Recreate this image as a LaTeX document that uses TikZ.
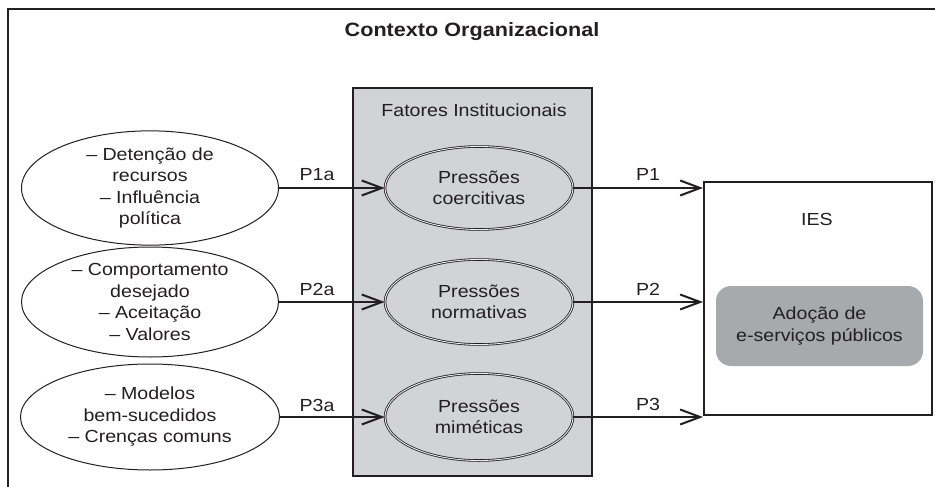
\documentclass[tikz,border=0pt]{standalone}
\usepackage{fontspec}
\setmainfont{Liberation Sans}[FakeStretch=1.12]
\usetikzlibrary{shapes.geometric,arrows.meta}
\definecolor{ink}{HTML}{231F20}
\definecolor{boxgray}{HTML}{D1D3D4}
\definecolor{adgray}{HTML}{A7A9AC}
\tikzset{
  txt/.style={font=\fontsize{17.5}{21.5}\selectfont, text=ink, align=center, inner sep=0pt},
  leftell/.style={ellipse, draw=ink, line width=1pt, fill=white, txt},
  grayell/.style={ellipse, draw=ink, line width=0.8pt, double=white!85!gray, double distance=0.9pt, fill=boxgray, txt},
  conn/.style={draw=ink, line width=2.5pt, -{Straight Barb[length=20pt,width=15pt,line width=2pt]}},
  lbl/.style={txt}
}
\begin{document}
\begin{tikzpicture}[x=1pt,y=-1pt]
\useasboundingbox (0,0) rectangle (935,487);
% outer frame (cut at bottom and right)
\draw[ink, line width=2.3pt] (8,488) -- (8,9) -- (936,9);
\node[txt, font=\fontsize{19.3}{23}\selectfont\bfseries] (title) at (472,32) {Contexto Organizacional};
% institutional factors box
\node[draw=ink, line width=2pt, fill=boxgray, minimum width=239pt, minimum height=388pt, inner sep=0pt] (fi) at (472.5,282) {};
\node[txt] (fitxt) at (474,110) {Fatores Institucionais};
% left ellipses
\node[leftell, minimum width=257pt, minimum height=106pt] (l1) at (150,188) {– Detenção de\\recursos\\– Influência\\política};
\node[leftell, minimum width=257pt, minimum height=110pt] (l2) at (150,302) {– Comportamento\\desejado\\– Aceitação\\– Valores};
\node[leftell, minimum width=259pt, minimum height=106pt] (l3) at (150,417) {– Modelos\\bem-sucedidos\\– Crenças comuns};
% gray ellipses
\node[grayell, minimum width=188pt, minimum height=83pt] (g1) at (479,188) {Pressões\\coercitivas};
\node[grayell, minimum width=188pt, minimum height=85pt] (g2) at (479,302) {Pressões\\normativas};
\node[grayell, minimum width=188pt, minimum height=87pt] (g3) at (479,417) {Pressões\\miméticas};
% IES box
\node[draw=ink, line width=2pt, fill=white, minimum width=228pt, minimum height=233pt, inner sep=0pt] (ies) at (818,298.5) {};
\node[txt] (iestxt) at (817,219) {IES};
\node[fill=adgray, rounded corners=15pt, minimum width=207pt, minimum height=80pt, txt] (ad) at (819.5,326) {Adoção de\\e-serviços públicos};
% connectors
\draw[conn] (l1.east) -- (g1.west);
\draw[conn] (l2.east) -- (g2.west);
\draw[conn] (l3.east) -- (g3.west);
\draw[conn] (g1.east) -- (g1.east -| ies.west);
\draw[conn] (g2.east) -- (g2.east -| ies.west);
\draw[conn] (g3.east) -- (g3.east -| ies.west);
% labels
\node[lbl] (p1a) at (317,175) {P1a};
\node[lbl] (p2a) at (317,289) {P2a};
\node[lbl] (p3a) at (317,405) {P3a};
\node[lbl] (p1) at (648,174) {P1};
\node[lbl] (p2) at (648,289) {P2};
\node[lbl] (p3) at (648,404) {P3};
\end{tikzpicture}
\end{document}
